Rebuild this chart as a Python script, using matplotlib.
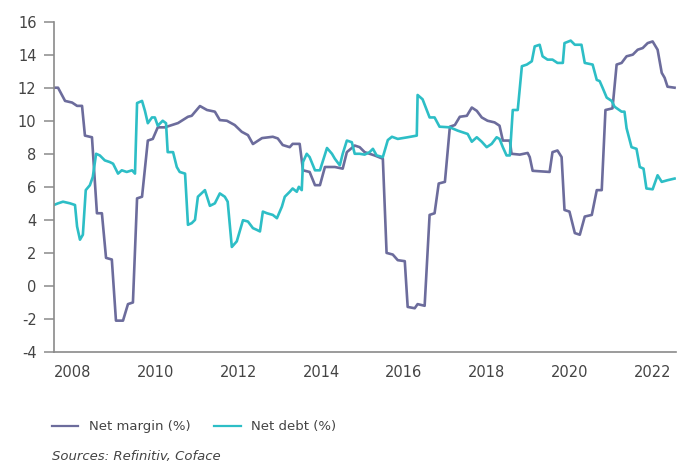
import matplotlib
matplotlib.use("Agg")
import matplotlib.pyplot as plt
from matplotlib.lines import Line2D

# Net margin (%) - dates as fractional years
margin_x = [2007.54, 2007.64, 2007.81, 2007.98, 2008.10, 2008.22, 2008.29, 2008.46,
            2008.58, 2008.70, 2008.80, 2008.94, 2009.04, 2009.21, 2009.33, 2009.45,
            2009.55, 2009.67, 2009.81, 2009.93, 2010.05, 2010.22, 2010.54, 2010.78,
            2010.87, 2011.07, 2011.24, 2011.43, 2011.55, 2011.72, 2011.91, 2012.08,
            2012.23, 2012.35, 2012.57, 2012.83, 2012.95, 2013.07, 2013.24, 2013.31,
            2013.48, 2013.56, 2013.72, 2013.85, 2013.97, 2014.09, 2014.33, 2014.52,
            2014.62, 2014.81, 2014.93, 2015.05, 2015.29, 2015.49, 2015.58, 2015.73,
            2015.85, 2016.02, 2016.09, 2016.26, 2016.33, 2016.50, 2016.62, 2016.74,
            2016.84, 2016.99, 2017.11, 2017.23, 2017.35, 2017.52, 2017.64, 2017.76,
            2017.88, 2018.02, 2018.19, 2018.31, 2018.39, 2018.56, 2018.60, 2018.80,
            2018.99, 2019.04, 2019.11, 2019.52, 2019.59, 2019.71, 2019.81, 2019.88,
            2020.00, 2020.13, 2020.25, 2020.37, 2020.54, 2020.66, 2020.78, 2020.87,
            2021.04, 2021.14, 2021.26, 2021.38, 2021.53, 2021.65, 2021.77, 2021.89,
            2022.01, 2022.13, 2022.23, 2022.30, 2022.37, 2022.54]
margin_y = [12.0, 12.0, 11.2, 11.1, 10.9, 10.9, 9.1, 9.0,
            4.4, 4.4, 1.7, 1.6, -2.1, -2.1, -1.1, -1.0,
            5.3, 5.4, 8.8, 8.9, 9.6, 9.6, 9.86, 10.24,
            10.3, 10.89, 10.65, 10.55, 10.04, 10.0, 9.74, 9.33,
            9.13, 8.59, 8.95, 9.03, 8.93, 8.53, 8.4, 8.6,
            8.6, 7.0, 6.9, 6.1, 6.1, 7.2, 7.2, 7.1,
            8.1, 8.5, 8.4, 8.1, 7.9, 7.7, 2.0, 1.9,
            1.56, 1.5, -1.27, -1.35, -1.1, -1.2, 4.3, 4.4,
            6.2, 6.3, 9.64, 9.74, 10.24, 10.3, 10.8, 10.6,
            10.2, 10.0, 9.9, 9.7, 8.8, 8.8, 8.0, 7.95,
            8.05, 7.8, 6.97, 6.9, 8.1, 8.2, 7.8, 4.6,
            4.5, 3.2, 3.1, 4.2, 4.3, 5.8, 5.8, 10.65,
            10.75, 13.4, 13.5, 13.9, 14.0, 14.3, 14.4, 14.7,
            14.8, 14.3, 12.9, 12.6, 12.06, 12.0]

# Net debt (%)
debt_x = [2007.54, 2007.64, 2007.76, 2007.93, 2008.05, 2008.10, 2008.17, 2008.24,
          2008.31, 2008.41, 2008.48, 2008.56, 2008.65, 2008.77, 2008.89, 2008.97,
          2009.09, 2009.18, 2009.30, 2009.43, 2009.50, 2009.55, 2009.67, 2009.74,
          2009.81, 2009.91, 2009.98, 2010.05, 2010.17, 2010.25, 2010.29, 2010.42,
          2010.51, 2010.58, 2010.71, 2010.78, 2010.87, 2010.95, 2011.02, 2011.19,
          2011.31, 2011.43, 2011.55, 2011.67, 2011.74, 2011.84, 2011.96, 2012.11,
          2012.23, 2012.35, 2012.44, 2012.52, 2012.59, 2012.69, 2012.83, 2012.93,
          2013.05, 2013.12, 2013.24, 2013.31, 2013.41, 2013.46, 2013.53, 2013.56,
          2013.65, 2013.72, 2013.85, 2013.97, 2014.14, 2014.26, 2014.33, 2014.45,
          2014.52, 2014.62, 2014.74, 2014.81, 2014.93, 2015.05, 2015.17, 2015.25,
          2015.34, 2015.49, 2015.61, 2015.71, 2015.85, 2016.09, 2016.31, 2016.33,
          2016.45, 2016.55, 2016.62, 2016.74, 2016.86, 2017.11, 2017.30, 2017.42,
          2017.54, 2017.64, 2017.76, 2017.88, 2018.00, 2018.12, 2018.24, 2018.31,
          2018.39, 2018.48, 2018.56, 2018.63, 2018.75, 2018.85, 2018.97, 2019.09,
          2019.16, 2019.28, 2019.35, 2019.47, 2019.59, 2019.71, 2019.84, 2019.88,
          2020.03, 2020.13, 2020.29, 2020.37, 2020.56, 2020.66, 2020.73, 2020.80,
          2020.90, 2021.02, 2021.09, 2021.26, 2021.33, 2021.38, 2021.50, 2021.62,
          2021.70, 2021.79, 2021.86, 2022.01, 2022.13, 2022.23, 2022.37, 2022.54]
debt_y = [4.9, 5.0, 5.1, 5.0, 4.9, 3.6, 2.8, 3.1,
          5.8, 6.1, 6.6, 8.0, 7.9, 7.6, 7.5, 7.4,
          6.8, 7.0, 6.9, 7.0, 6.8, 11.07, 11.2, 10.6,
          9.85, 10.2, 10.2, 9.7, 10.0, 9.85, 8.1, 8.1,
          7.2, 6.9, 6.8, 3.7, 3.8, 4.0, 5.4, 5.8,
          4.85, 5.0, 5.6, 5.4, 5.1, 2.36, 2.7, 3.98,
          3.9, 3.5, 3.4, 3.3, 4.5, 4.4, 4.3, 4.1,
          4.8, 5.4, 5.7, 5.9, 5.7, 6.0, 5.8, 7.5,
          8.0, 7.8, 7.0, 7.0, 8.35, 8.0, 7.7, 7.3,
          8.0, 8.8, 8.7, 8.0, 8.0, 7.95, 8.1, 8.3,
          7.9, 7.8, 8.83, 9.03, 8.9, 9.0, 9.1, 11.56,
          11.3, 10.65, 10.2, 10.2, 9.64, 9.6, 9.4, 9.3,
          9.2, 8.73, 9.0, 8.73, 8.4, 8.6, 9.0, 8.9,
          8.4, 7.9, 7.9, 10.65, 10.65, 13.3, 13.4, 13.6,
          14.5, 14.6, 13.9, 13.7, 13.7, 13.5, 13.5, 14.7,
          14.85, 14.6, 14.6, 13.5, 13.4, 12.47, 12.4, 12.0,
          11.4, 11.2, 10.85, 10.55, 10.55, 9.55, 8.4, 8.3,
          7.2, 7.1, 5.9, 5.85, 6.7, 6.3, 6.4, 6.5]

year_ticks = [2008, 2010, 2012, 2014, 2016, 2018, 2020, 2022]
y_ticks = list(range(-4, 17, 2))

margin_color = "#6c6c9c"
debt_color = "#2dbec6"
text_color = "#444444"
axis_color = "#8a8a8a"

plt.rcParams["font.family"] = ["DejaVu Sans"]

fig = plt.figure(figsize=(6.91, 4.70), dpi=100)
ax = fig.add_axes([0.078, 0.251, 0.900, 0.703])

ax.plot(margin_x, margin_y, color=margin_color, lw=1.9, solid_joinstyle="round")
ax.plot(debt_x, debt_y, color=debt_color, lw=1.9, solid_joinstyle="round")

ax.set_xlim(2007.54, 2022.57)
ax.set_ylim(-4, 16)
ax.set_yticks(y_ticks)
ax.set_xticks(year_ticks)
ax.set_yticklabels([str(v) for v in y_ticks])

for side in ["top", "right"]:
    ax.spines[side].set_visible(False)
for side in ["left", "bottom"]:
    ax.spines[side].set_color(axis_color)
    ax.spines[side].set_linewidth(1.2)

ax.tick_params(axis="y", length=7.5, width=1.1, color=axis_color, pad=5,
               labelsize=10.5, labelcolor=text_color)
ax.tick_params(axis="x", length=0, pad=9, labelsize=10.5, labelcolor=text_color)

handles = [Line2D([], [], color=margin_color, lw=1.6),
           Line2D([], [], color=debt_color, lw=1.6)]
fig.legend(handles, ["Net margin (%)", "Net debt (%)"], loc="center left",
           bbox_to_anchor=(0.058, 0.092), ncol=2, frameon=False,
           fontsize=9.5, labelcolor=text_color, handlelength=2.0,
           handletextpad=0.8, columnspacing=1.8)

fig.text(0.075, 0.015, "Sources: Refinitiv, Coface", fontsize=9.5,
         style="italic", color=text_color, ha="left", va="bottom")

fig.savefig("out.png", dpi=100)
